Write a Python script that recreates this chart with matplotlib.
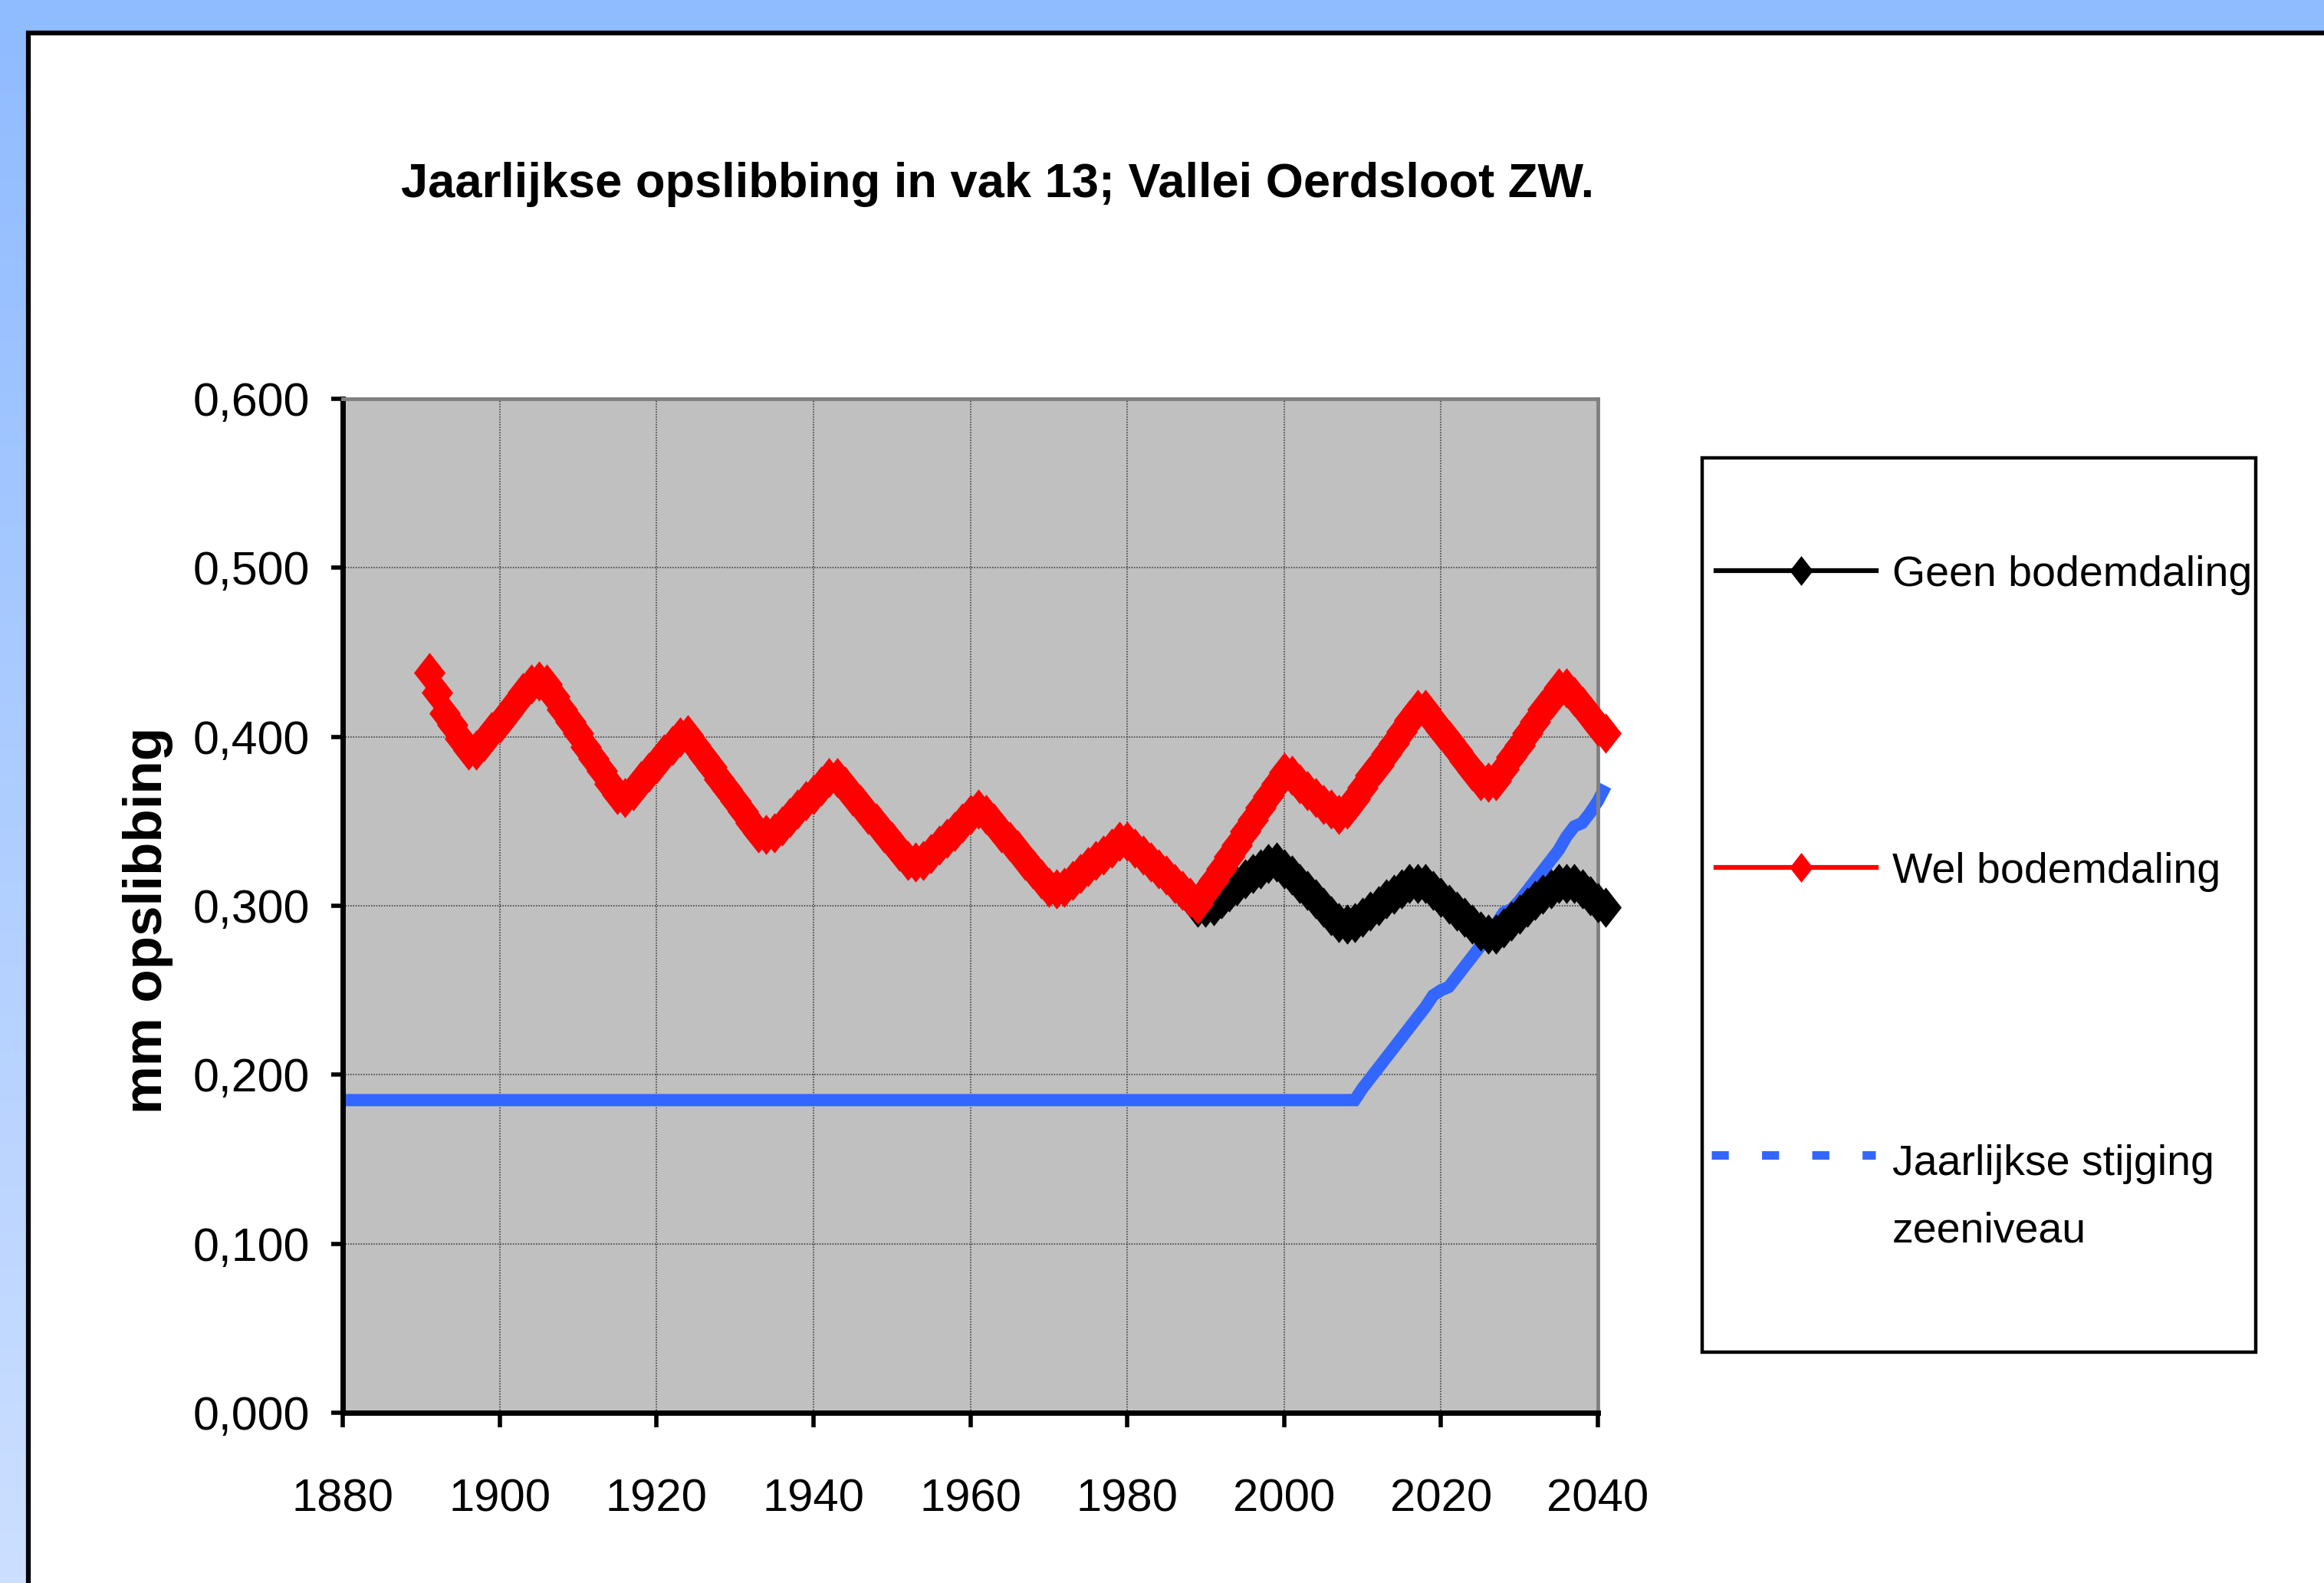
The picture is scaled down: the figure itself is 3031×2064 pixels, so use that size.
import numpy as np
import matplotlib
matplotlib.use("Agg")
import matplotlib.pyplot as plt
from matplotlib.path import Path
from matplotlib.lines import Line2D
from matplotlib.patches import Rectangle
from matplotlib.ticker import FuncFormatter
from matplotlib import font_manager

# ---------------- data ----------------
title = "Jaarlijkse opslibbing in vak 13; Vallei Oerdsloot ZW."
ylabel = "mm opslibbing"
labels = ["Geen bodemdaling", "Wel bodemdaling", "Jaarlijkse stijging", "zeeniveau"]

x_ticks = [1880, 1900, 1920, 1940, 1960, 1980, 2000, 2020, 2040]
y_ticks = [0.0, 0.1, 0.2, 0.3, 0.4, 0.5, 0.6]

wel_years = list(range(1891, 2042))
wel_values = [
    0.438, 0.426, 0.414, 0.407, 0.399, 0.392, 0.392, 0.397, 0.403, 0.408,  # 1891-1900
    0.414, 0.420, 0.426, 0.431, 0.433, 0.431, 0.424, 0.416, 0.409, 0.402,  # 1901-1910
    0.394, 0.387, 0.380, 0.372, 0.366, 0.364, 0.368, 0.374, 0.379, 0.384,  # 1911-1920
    0.390, 0.395, 0.400, 0.401, 0.395, 0.388, 0.382, 0.375, 0.369, 0.362,  # 1921-1930
    0.356, 0.349, 0.343, 0.342, 0.343, 0.347, 0.352, 0.357, 0.362, 0.366,  # 1931-1940
    0.371, 0.376, 0.376, 0.371, 0.365, 0.360, 0.354, 0.349, 0.343, 0.338,  # 1941-1950
    0.332, 0.327, 0.326, 0.327, 0.331, 0.336, 0.340, 0.344, 0.349, 0.354,  # 1951-1960
    0.357, 0.354, 0.349, 0.343, 0.338, 0.333, 0.327, 0.322, 0.316, 0.311,  # 1961-1970
    0.310, 0.311, 0.315, 0.319, 0.323, 0.327, 0.330, 0.334, 0.338, 0.338,  # 1971-1980
    0.334, 0.330, 0.326, 0.322, 0.318, 0.313, 0.309, 0.305, 0.301, 0.308,  # 1981-1990
    0.315, 0.322, 0.329, 0.336, 0.344, 0.351, 0.358, 0.365, 0.372, 0.379,  # 1991-2000
    0.377, 0.372, 0.368, 0.364, 0.360, 0.357, 0.354, 0.357, 0.363, 0.370,  # 2001-2010
    0.377, 0.383, 0.390, 0.396, 0.403, 0.410, 0.416, 0.416, 0.410, 0.404,  # 2011-2020
    0.398, 0.392, 0.386, 0.380, 0.374, 0.373, 0.374, 0.381, 0.388, 0.395,  # 2021-2030
    0.402, 0.409, 0.416, 0.422, 0.429, 0.429, 0.424, 0.418, 0.412, 0.406,  # 2031-2040
    0.402,                                                                 # 2041
]

geen_years = list(range(1989, 2042))
geen_values = [
    0.299, 0.299,                                                          # 1989-1990
    0.300, 0.304, 0.308, 0.312, 0.316, 0.319, 0.322, 0.325, 0.326, 0.322,  # 1991-2000
    0.318, 0.313, 0.309, 0.304, 0.299, 0.294, 0.290, 0.289, 0.290, 0.293,  # 2001-2010
    0.297, 0.300, 0.304, 0.307, 0.310, 0.313, 0.313, 0.313, 0.309, 0.305,  # 2011-2020
    0.301, 0.297, 0.293, 0.289, 0.285, 0.283, 0.283, 0.287, 0.291, 0.295,  # 2021-2030
    0.299, 0.303, 0.307, 0.310, 0.313, 0.313, 0.313, 0.310, 0.306, 0.302,  # 2031-2040
    0.299,                                                                 # 2041
]

zee_years = [1880] + list(range(2009, 2042))
zee_values = [
    0.185,                                                                 # 1880
    0.185, 0.192, 0.198, 0.204, 0.210, 0.216, 0.222, 0.228, 0.234, 0.240,  # 2009-2018
    0.247, 0.250, 0.252, 0.258, 0.264, 0.270, 0.276, 0.282, 0.289, 0.296,  # 2019-2028
    0.298, 0.303, 0.309, 0.315, 0.321, 0.327, 0.333, 0.341, 0.347, 0.349,  # 2029-2038
    0.355, 0.362, 0.371,                                                   # 2039-2041
]

assert len(wel_years) == len(wel_values)
assert len(geen_years) == len(geen_values)
assert len(zee_years) == len(zee_values)

# ---------------- fonts ----------------
names = {f.name for f in font_manager.fontManager.ttflist}
has_narrow = "Liberation Sans Narrow" in names
narrow_fam = ["Liberation Sans Narrow", "Liberation Sans", "DejaVu Sans"]
reg_fam = ["Liberation Sans", "DejaVu Sans"]
k = 1.0 if has_narrow else 0.86
plt.rcParams["font.family"] = narrow_fam

# ---------------- figure ----------------
W, H = 3031, 2064
fig = plt.figure(figsize=(W / 100, H / 100), dpi=100)

# blue gradient background
bg = fig.add_axes([0, 0, 1, 1], zorder=-10)
bg.axis("off")
top_c = np.array([143, 187, 255]) / 255.0
bot_c = np.array([204, 223, 255]) / 255.0
t = np.linspace(0, 1, 256)[:, None, None]
grad = top_c[None, None, :] * (1 - t) + bot_c[None, None, :] * t
bg.imshow(grad, aspect="auto", extent=[0, 1, 0, 1])
bg.set_xlim(0, 1)
bg.set_ylim(0, 1)

# white panel with black border (only left/top visible)
panel = Rectangle((37 / W, -0.05), 1.2, (1 - 43 / H) + 0.05, transform=fig.transFigure,
                  facecolor="white", edgecolor="black", lw=4.5, zorder=-5)
fig.add_artist(panel)

# main axes
L, R, T, B = 447, 2084, 520, 1842
ax = fig.add_axes([L / W, (H - B) / H, (R - L) / W, (B - T) / H])
ax.set_facecolor("#C0C0C0")
ax.set_xlim(1880, 2040)
ax.set_ylim(0, 0.6)
ax.set_xticks(x_ticks)
ax.set_yticks(y_ticks)
ax.yaxis.set_major_formatter(FuncFormatter(lambda v, p: f"{v:.3f}".replace(".", ",")))
ax.grid(True, color="#303030", lw=1.1, linestyle=(0, (1, 1.2)))
ax.set_axisbelow(True)

for s in ("left", "bottom"):
    ax.spines[s].set_color("black")
    ax.spines[s].set_linewidth(5)
for s in ("top", "right"):
    ax.spines[s].set_color("#808080")
    ax.spines[s].set_linewidth(3.5)

ax.tick_params(axis="y", direction="out", length=11, width=4, pad=20,
               labelsize=51 * k, colors="black")
ax.tick_params(axis="x", direction="out", length=13.5, width=4, pad=48,
               labelsize=50 * k, colors="black")

diamond = Path([(0, 1), (0.78, 0), (0, -1), (-0.78, 0), (0, 1)],
               [Path.MOVETO, Path.LINETO, Path.LINETO, Path.LINETO, Path.CLOSEPOLY])

ax.plot(zee_years, zee_values, color="#3366FF", lw=11.5, solid_capstyle="butt",
        solid_joinstyle="miter", zorder=2, clip_on=False)
ax.plot(geen_years, geen_values, color="black", lw=6, marker=diamond, ms=37,
        mec="black", mew=0.5, zorder=3, clip_on=False)
ax.plot(wel_years, wel_values, color="red", lw=6, marker=diamond, ms=37,
        mec="red", mew=0.5, zorder=4, clip_on=False)

# title and axis label
fig.text(1301 / W, 1 - 257 / H, title, ha="center", va="baseline",
         fontsize=53 * k, fontweight="bold", family=narrow_fam)
fig.text(193 / W, 1 - 1200 / H, ylabel, ha="center", va="center", rotation=90,
         fontsize=51, fontweight="bold", family=reg_fam)

# legend (drawn manually to match the boxed layout)
fig.add_artist(Rectangle((2220 / W, 1 - 1763 / H), (2942 - 2220) / W, (1763 - 597) / H,
                         transform=fig.transFigure, facecolor="white",
                         edgecolor="black", lw=3.2, zorder=1))
y1, y2, y3 = 744, 1131, 1506
for yy, col in ((y1, "black"), (y2, "red")):
    fig.add_artist(Line2D([2238 / W, 2447 / W], [1 - yy / H, 1 - yy / H],
                          transform=fig.transFigure, color=col, lw=4.5, zorder=2))
    fig.add_artist(Line2D([2349 / W], [1 - yy / H], transform=fig.transFigure,
                          color=col, marker=diamond, ms=28, mew=0, zorder=3))
fig.add_artist(Line2D([2232 / W, 2446 / W], [1 - y3 / H, 1 - y3 / H],
                      transform=fig.transFigure, color="#3366FF", lw=8,
                      linestyle=(0, (2.0, 3.9)), solid_capstyle="butt",
                      dash_capstyle="butt", zorder=2))
leg_kw = dict(ha="left", va="baseline", fontsize=40, family=reg_fam, zorder=4)
fig.text(2468 / W, 1 - (y1 + 20) / H, labels[0], **leg_kw)
fig.text(2468 / W, 1 - (y2 + 20) / H, labels[1], **leg_kw)
fig.text(2468 / W, 1 - 1532 / H, labels[2], **leg_kw)
fig.text(2468 / W, 1 - 1619 / H, labels[3], **leg_kw)

fig.savefig("out.png", dpi=100)
